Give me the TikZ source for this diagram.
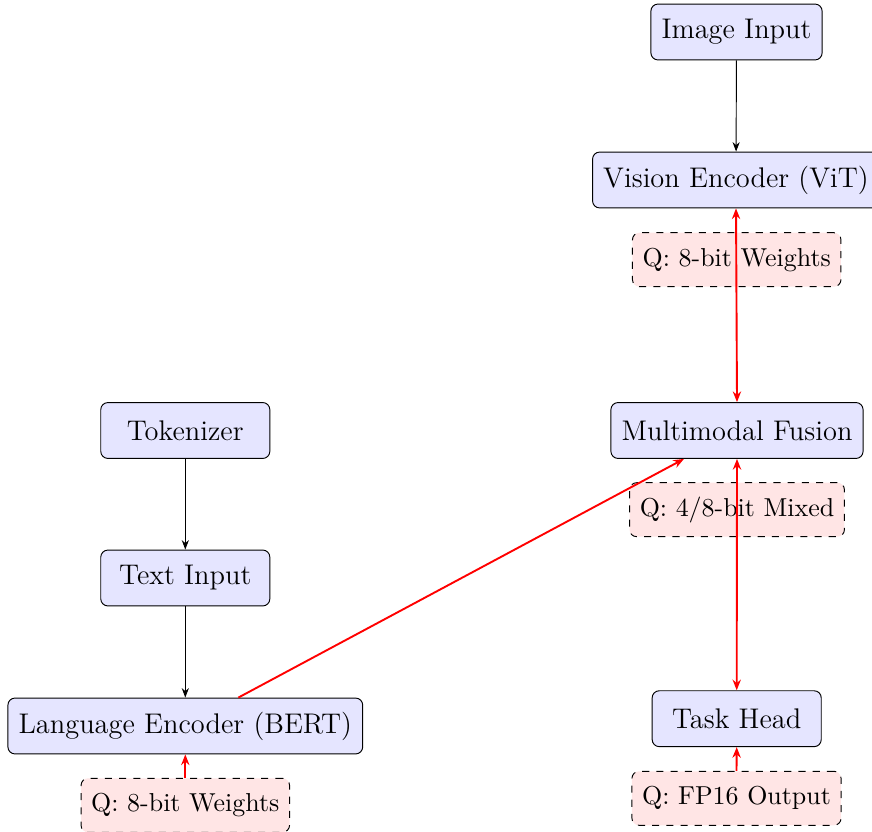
\documentclass[tikz,border=0pt]{standalone}
\usetikzlibrary{arrows.meta}
\tikzset{
  mainbox/.style={draw=black, fill=blue!10, rounded corners=3pt, inner xsep=4.5pt,
    minimum height=23.6pt, minimum width=71.4pt, font=\fontsize{12}{14.4}\selectfont},
  qbox/.style={draw=black, dashed, fill=red!10, rounded corners=3pt, inner xsep=4.3pt,
    minimum height=22.8pt, font=\fontsize{10.95}{13.6}\selectfont},
  blackarrow/.style={-{Stealth[length=4pt,width=3pt]}, black, line width=0.4pt},
  redarrow/.style={-{Stealth[length=4.5pt,width=3.5pt]}, red, line width=0.8pt},
  redboth/.style={{Stealth[length=4.5pt,width=3.5pt]}-{Stealth[length=4.5pt,width=3.5pt]}, red, line width=0.8pt}
}
\begin{document}
\begin{tikzpicture}[x=0.4223pt,y=-0.4223pt]
\useasboundingbox (0,0) rectangle (872,832);
\node[mainbox] (img) at (736.5,32) {Image Input};
\node[mainbox] (vit) at (736,180) {Vision Encoder (ViT)};
\node[qbox] (qvit) at (736.7,259.7) {Q: 8-bit Weights};
\node[mainbox] (fus) at (737,430.5) {Multimodal Fusion};
\node[qbox] (qfus) at (737,509.7) {Q: 4/8-bit Mixed};
\node[mainbox] (task) at (736.7,718.7) {Task Head};
\node[qbox] (qtask) at (736.5,798.3) {Q: FP16 Output};
\node[mainbox] (tok) at (185.3,430.5) {Tokenizer};
\node[mainbox] (txt) at (185.3,578) {Text Input};
\node[mainbox] (bert) at (185.3,726) {Language Encoder (BERT)};
\node[qbox] (qbert) at (185.3,805.3) {Q: 8-bit Weights};

\draw[blackarrow] (img) -- (vit);
\draw[blackarrow] (tok) -- (txt);
\draw[blackarrow] (txt) -- (bert);
\draw[redboth] (vit.south) -- (fus.north);
\draw[redboth] (fus.south) -- (task.north);
\draw[redarrow] (bert) -- (fus);
\draw[redarrow] (qbert.north) -- (bert.south);
\draw[redarrow] (qtask.north) -- (task.south);
\end{tikzpicture}
\end{document}
